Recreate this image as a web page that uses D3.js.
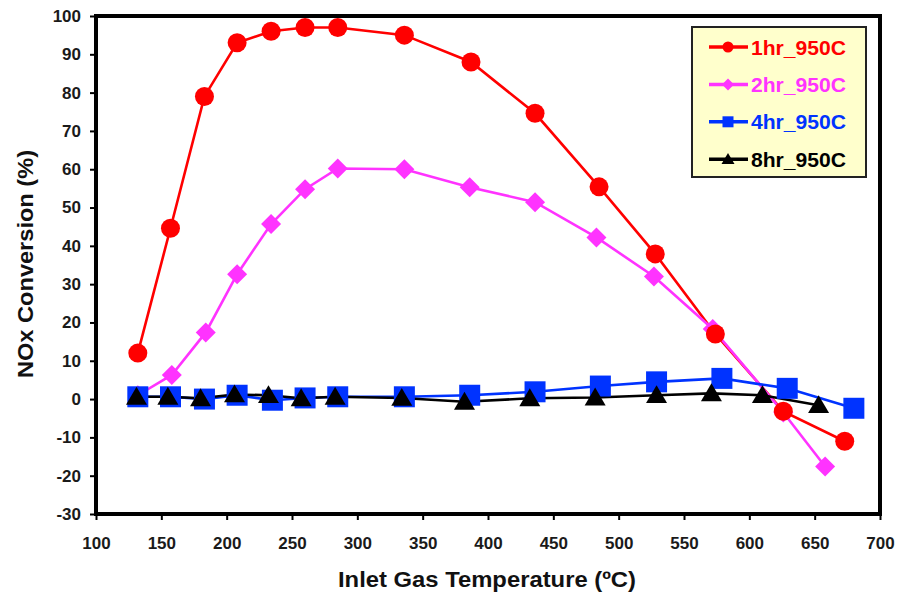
<!DOCTYPE html>
<html>
<head>
<meta charset="utf-8">
<script src="https://cdn.jsdelivr.net/npm/d3@7"></script>
<style>
  html, body { margin: 0; padding: 0; background: #fff; }
  svg { display: block; }
  text { font-family: "Liberation Sans", Arial, sans-serif; font-weight: bold; }
</style>
</head>
<body>
<svg id="chart" width="899" height="592"></svg>
<script>
// ---- Data ----
const seriesNames = ["1hr_950C", "2hr_950C", "4hr_950C", "8hr_950C"];
const temps1 = [132, 157, 183, 208, 234, 260, 285, 336, 387, 436, 485, 528, 574, 626, 673];
const nox1   = [12, 44.6, 79, 93, 96, 97, 97, 95, 88, 74.6, 55.4, 37.9, 17, -3.2, -11];
const temps2 = [132, 158, 184, 208, 234, 260, 285, 336, 386, 436, 483, 527, 572, 626, 658];
const nox2   = [1, 6.3, 17.4, 32.6, 45.7, 54.8, 60.2, 60, 55.3, 51.4, 42.2, 32, 18.3, -3.5, -17.6];
const temps4 = [132, 157, 183, 208, 235, 260, 285, 336, 386, 436, 486, 529, 579, 629, 680];
const nox4   = [0.6, 0.6, 0, 1, -0.3, 0.3, 0.6, 0.6, 1, 1.9, 3.4, 4.5, 5.4, 2.8, -2.4];
const temps8 = [131, 155, 180, 206, 232, 257, 283, 334, 382, 432, 482, 529, 571, 610, 653];
const nox8   = [0.6, 0.6, 0.2, 1.2, 1, 0.2, 0.6, 0.3, -0.7, 0.2, 0.4, 1, 1.5, 1, -1.6];
const xTicks = [100, 150, 200, 250, 300, 350, 400, 450, 500, 550, 600, 650, 700];
const yTicks = [-30, -20, -10, 0, 10, 20, 30, 40, 50, 60, 70, 80, 90, 100];
const xTitle = "Inlet Gas Temperature (ºC)";
const yTitle = "NOx Conversion (%)";

// ---- Styles ----
const colors = ["#ff0000", "#ff33ff", "#0033ff", "#000000"];
const shapes = ["circle", "diamond", "square", "triangle"];

const svg = d3.select("#chart");
const L = 96, R = 880, T = 16, B = 514;
const x = d3.scaleLinear().domain([100, 700]).range([L, R]);
const y = d3.scaleLinear().domain([-30, 100]).range([B, T]);

const series = [
  { name: seriesNames[0], xs: temps1, ys: nox1 },
  { name: seriesNames[1], xs: temps2, ys: nox2 },
  { name: seriesNames[2], xs: temps4, ys: nox4 },
  { name: seriesNames[3], xs: temps8, ys: nox8 }
].map((s, i) => ({ ...s, color: colors[i], shape: shapes[i], pts: s.xs.map((t, j) => [t, s.ys[j]]) }));

function markerPath(shape, s) {
  if (shape === "circle") return d3.symbol(d3.symbolCircle, Math.PI * s * s)();
  if (shape === "square") return `M${-s},${-s}H${s}V${s}H${-s}Z`;
  if (shape === "diamond") return `M0,${-s}L${s},0L0,${s}L${-s},0Z`;
  if (shape === "triangle") return `M0,${-s * 0.95}L${s},${s * 0.75}L${-s},${s * 0.75}Z`;
}
const markerSize = { circle: 9.5, diamond: 10, square: 10.5, triangle: 10.5 };

svg.append("rect").attr("x", L).attr("y", T).attr("width", R - L).attr("height", B - T).attr("fill", "#fff");

// Axes
const fmt = d => String(d);
const yAxis = d3.axisLeft(y).tickValues(yTicks).tickSize(6).tickPadding(9).tickFormat(fmt);
const gy = svg.append("g").attr("transform", `translate(${L},0)`).call(yAxis);
const xAxis = d3.axisBottom(x).tickValues(xTicks).tickSize(6).tickPadding(17).tickFormat(fmt);
const gx = svg.append("g").attr("transform", `translate(0,${B})`).call(xAxis);
[gx, gy].forEach(g => {
  g.select(".domain").remove();
  g.selectAll(".tick line").attr("stroke", "#000").attr("stroke-width", 2);
  g.selectAll(".tick text").attr("fill", "#1a1a1a").style("font-size", "17px").style("font-family", "'Liberation Sans', Arial, sans-serif").style("font-weight", "bold");
});

// Lines
const line = d3.line().x(d => x(d[0])).y(d => y(d[1]));
const plot = svg.append("g");
series.forEach(s => {
  plot.append("path").datum(s.pts).attr("d", line).attr("fill", "none")
    .attr("stroke", s.color).attr("stroke-width", 2.6);
});
// Markers
[1, 0, 2, 3].forEach(i => {
  const s = series[i];
  plot.selectAll(null).data(s.pts).enter().append("path")
    .attr("d", markerPath(s.shape, markerSize[s.shape]))
    .attr("transform", d => `translate(${x(d[0])},${y(d[1])})`)
    .attr("fill", s.color);
});

// Frame
svg.append("rect").attr("x", L).attr("y", T).attr("width", R - L).attr("height", B - T)
  .attr("fill", "none").attr("stroke", "#000").attr("stroke-width", 4);

// Axis titles
svg.append("text").attr("x", 487).attr("y", 587).attr("text-anchor", "middle")
  .style("font-size", "22px").attr("fill", "#111")
  .attr("textLength", 298).attr("lengthAdjust", "spacingAndGlyphs").text(xTitle);
svg.append("text").attr("transform", "translate(33,264) rotate(-90)").attr("text-anchor", "middle")
  .style("font-size", "22px").attr("fill", "#111")
  .attr("textLength", 228).attr("lengthAdjust", "spacingAndGlyphs").text(yTitle);

// Legend
const lg = svg.append("g");
lg.append("rect").attr("x", 692).attr("y", 27).attr("width", 174).attr("height", 150)
  .attr("fill", "#ffffcc").attr("stroke", "#222").attr("stroke-width", 2);
const legendSmall = { circle: 5.5, diamond: 6, square: 5.5, triangle: 6.5 };
series.forEach((s, i) => {
  const cy = 47 + i * 37.4;
  lg.append("line").attr("x1", 709).attr("x2", 748).attr("y1", cy).attr("y2", cy)
    .attr("stroke", s.color).attr("stroke-width", 3.5);
  lg.append("path").attr("d", markerPath(s.shape, legendSmall[s.shape]))
    .attr("transform", `translate(728,${cy})`).attr("fill", s.color);
  lg.append("text").attr("x", 751).attr("y", cy + 7.5).style("font-size", "20px")
    .attr("fill", s.color).attr("textLength", 95).attr("lengthAdjust", "spacingAndGlyphs").text(s.name);
});
</script>
</body>
</html>
